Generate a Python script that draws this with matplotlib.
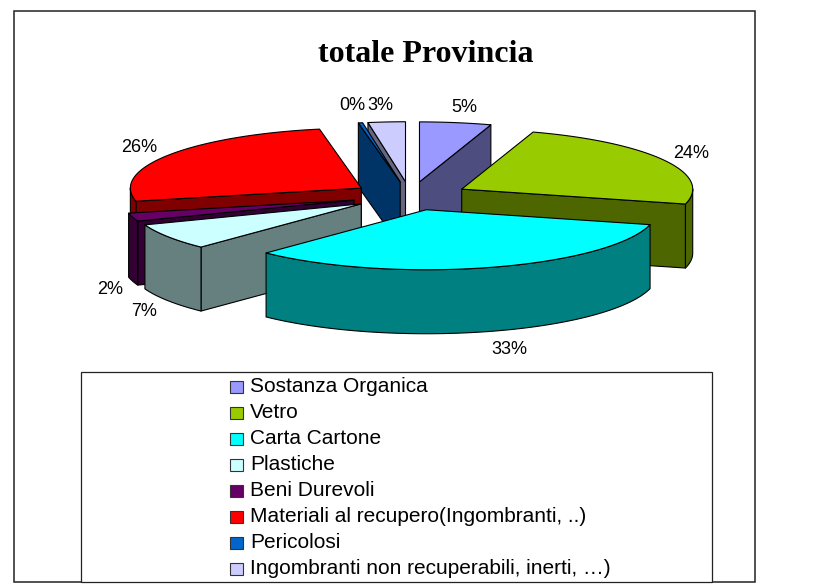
import numpy as np
import matplotlib
matplotlib.use("Agg")
import matplotlib.pyplot as plt
from matplotlib.patches import Polygon, Rectangle

categories = ["Sostanza Organica", "Vetro", "Carta Cartone", "Plastiche", "Beni Durevoli",
              "Materiali al recupero(Ingombranti, ..)", "Pericolosi",
              "Ingombranti non recuperabili, inerti, \u2026)"]
values = [5.0, 24.0, 33.2, 7.1, 2.2, 25.6, 0.3, 2.6]
top_colors = ["#9999FF", "#99CC00", "#00FFFF", "#CCFFFF", "#660066", "#FF0000", "#0066CC", "#CCCCFF"]
side_colors = ["#4D4D80", "#4D6600", "#008080", "#668080", "#330033", "#800000", "#003366", "#666680"]

# layout of the 3D pie, in pixels of the 814x587 image
CX, CY = 410.3, 196.0
RX, RY = 231.0, 60.0
DEPTH = 64.0
EXPLODE_X, EXPLODE_Y = 0.254, 0.238
label_pos = [(464, 107), (691, 153), (509, 349), (144, 311), (110, 289), (139, 147), (352, 106), (380, 105)]

plt.rcParams['font.family'] = ['Liberation Sans', 'DejaVu Sans']

fig = plt.figure(figsize=(8.14, 5.87), dpi=100)
ax = fig.add_axes([0, 0, 1, 1])
ax.set_xlim(0, 814)
ax.set_ylim(587, 0)
ax.axis('off')

LW = 0.8


def rim(apex, angles):
    # angles are clockwise from 12 o'clock, in radians
    return np.column_stack([apex[0] + RX * np.sin(angles), apex[1] - RY * np.cos(angles)])


def face(points, color, z):
    ax.add_patch(Polygon(points, closed=True, facecolor=color, edgecolor='black',
                         linewidth=LW, joinstyle='round', zorder=z))


def wall(p, q, color, z):
    face([p, q, (q[0], q[1] + DEPTH), (p[0], p[1] + DEPTH)], color, z)


# slice angles from the values
total = sum(values)
edges = np.radians(np.concatenate([[0], np.cumsum(values)]) / total * 360)
mids = (edges[:-1] + edges[1:]) / 2

# paint back to front
order = np.argsort(-np.cos(mids))
for k, i in enumerate(order):
    a0, a1 = edges[i], edges[i + 1]
    apex = (CX + EXPLODE_X * RX * np.sin(mids[i]), CY - EXPLODE_Y * RY * np.cos(mids[i]))
    z = 2 + k
    # radial walls, only those turned towards the viewer
    if np.sin(a0) < 0:
        wall(apex, rim(apex, np.array([a0]))[0], side_colors[i], z)
    if np.sin(a1) > 0:
        wall(apex, rim(apex, np.array([a1]))[0], side_colors[i], z)
    # outer wall, front half of the ellipse only
    lo, hi = max(a0, np.pi / 2), min(a1, 3 * np.pi / 2)
    if hi > lo:
        arc = rim(apex, np.linspace(lo, hi, 80))
        lower = arc[::-1] + [0, DEPTH]
        face(np.vstack([arc, lower]), side_colors[i], z)
    # top face
    arc = rim(apex, np.linspace(a0, a1, 120))
    face(np.vstack([[apex], arc]), top_colors[i], z)

for v, (x, y) in zip(values, label_pos):
    ax.text(x, y, f"{v / total * 100:.0f}%", fontsize=13, ha='center', va='center', color='black', zorder=30)

# chart frame and title
ax.add_patch(Rectangle((14, 11), 741, 571, facecolor='none', edgecolor='#222222', linewidth=1.1, zorder=1))
ax.text(426, 55, "totale Provincia", family=['Liberation Serif'], fontweight='bold', fontsize=23,
        ha='center', va='center', color='black', zorder=30)

# legend
ax.add_patch(Rectangle((81, 372), 631, 210, facecolor='white', edgecolor='#222222', linewidth=0.9, zorder=20))
for i, name in enumerate(categories):
    y = 386.5 + i * 26
    ax.add_patch(Rectangle((230, y - 6), 12.5, 12, facecolor=top_colors[i], edgecolor='#333333', linewidth=0.8, zorder=21))
    ax.text(250, y + 6, name, fontsize=15, ha='left', va='baseline', color='black', zorder=21)

fig.savefig("out.png", dpi=100)
